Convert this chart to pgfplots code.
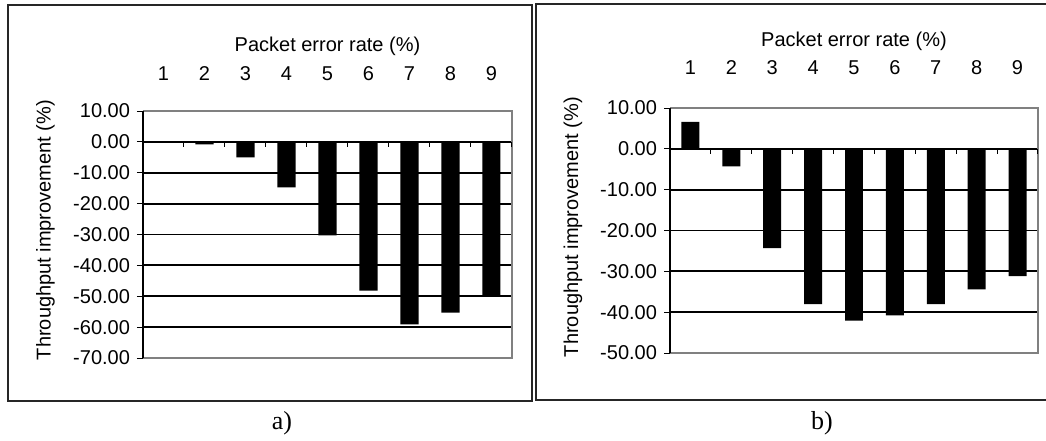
\documentclass[border=0pt]{standalone}
\usepackage{fontspec}
\setmainfont{Liberation Sans}
\newfontfamily\seriffont{Liberation Serif}
\usepackage{pgfplots}
\pgfplotsset{compat=1.18}

\pgfplotsset{
  excelbar/.style={
    scale only axis,
    anchor=south west,
    ybar, bar width=0.44,
    xmin=0.5, xmax=9.5,
    xtick={1,...,9},
    xticklabels={1,2,3,4,5,6,7,8,9},
    xticklabel pos=upper,
    xtick style={draw=none},
    xticklabel style={anchor=center},
    ytick pos=left,
    tick align=outside,
    major tick length=3pt,
    ytick style={black, line width=0.5pt},
    ymajorgrids,
    grid style={black, line width=0.9pt},
    axis line style={draw=none},
    /pgf/number format/assume math mode=true,
    yticklabel style={/pgf/number format/.cd, fixed, fixed zerofill, precision=2, assume math mode=true},
    clip=false,
  }
}

\begin{document}
\begin{tikzpicture}
\path[use as bounding box] (0,0) rectangle (523pt,220pt);
% outer frames
\draw[black!85, line width=0.8pt] (4pt,19.5pt) rectangle (266pt,217.5pt);
\draw[black!85, line width=0.8pt] (525pt,20pt) -- (268pt,20pt) -- (268pt,218pt) -- (525pt,218pt);

% ---------- a) ----------
\begin{axis}[excelbar,
  at={(71.5pt,41pt)}, width=184.5pt, height=123.5pt,
  ymin=-70, ymax=10, ytick={-70,-60,...,10},
  xticklabel style={yshift=15.5pt},
]
\addplot[fill=black, draw=none] coordinates {(1,0) (2,-0.8) (3,-5.0) (4,-14.7) (5,-30.3) (6,-48.2) (7,-59.1) (8,-55.3) (9,-49.9)};
\draw[gray, line width=0.9pt] (rel axis cs:0,1) -- (rel axis cs:1,1) -- (rel axis cs:1,0) -- (rel axis cs:0,0);
\draw[black, line width=0.8pt] (rel axis cs:0,0) -- (rel axis cs:0,1);
\pgfplotsinvokeforeach{1.5,2.5,...,9.5}{\draw[black, line width=0.5pt] (axis cs:#1,0) -- ([yshift=-2.5pt]axis cs:#1,0);}
\node at ([yshift=32.5pt]rel axis cs:0.5,1) {Packet error rate (\%)};
\node[rotate=90] at ([xshift=-48.75pt,yshift=2.25pt]rel axis cs:0,0.5) {Throughput improvement (\%)};
\end{axis}

% ---------- b) ----------
\begin{axis}[excelbar,
  at={(335pt,43.5pt)}, width=184pt, height=122.5pt,
  ymin=-50, ymax=10, ytick={-50,-40,...,10},
  xticklabel style={yshift=17pt},
]
\addplot[fill=black, draw=none] coordinates {(1,6.6) (2,-4.3) (3,-24.3) (4,-38.0) (5,-42.1) (6,-40.8) (7,-38.0) (8,-34.4) (9,-31.2)};
\draw[gray, line width=0.9pt] (rel axis cs:0,1) -- (rel axis cs:1,1) -- (rel axis cs:1,0) -- (rel axis cs:0,0);
\draw[black, line width=0.8pt] (rel axis cs:0,0) -- (rel axis cs:0,1);
\pgfplotsinvokeforeach{1.5,2.5,...,9.5}{\draw[black, line width=0.5pt] (axis cs:#1,0) -- ([yshift=-2.5pt]axis cs:#1,0);}
\node at ([yshift=33.5pt]rel axis cs:0.5,1) {Packet error rate (\%)};
\node[rotate=90] at ([xshift=-48.5pt,yshift=1.75pt]rel axis cs:0,0.5) {Throughput improvement (\%)};
\end{axis}

\node[font=\seriffont\fontsize{13}{15}\selectfont] at (141pt,8.5pt) {a)};
\node[font=\seriffont\fontsize{13}{15}\selectfont] at (411pt,8.5pt) {b)};
\end{tikzpicture}
\end{document}
